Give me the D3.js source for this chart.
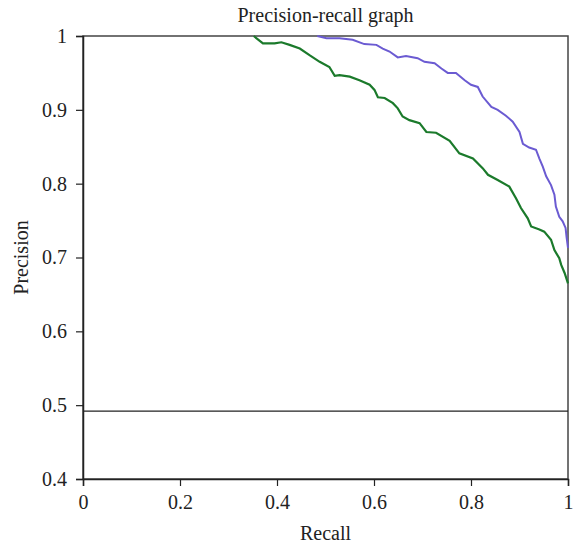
<!DOCTYPE html>
<html>
<head>
<meta charset="utf-8">
<script src="https://cdn.jsdelivr.net/npm/d3@7"></script>
<style>
  body { margin: 0; background: #fff; }
  svg text { font-family: 'Liberation Serif', 'DejaVu Serif', serif; fill: #222; }
</style>
</head>
<body>
<div id="chart"></div>
<script>
// values
let xTicks = [0, 0.2, 0.4, 0.6, 0.8, 1];
let yTicks = [0.4, 0.5, 0.6, 0.7, 0.8, 0.9, 1];
let baselinePrecision = 0.492;

let greenRecall = [0.352, 0.371, 0.395, 0.409, 0.426, 0.447, 0.467, 0.488, 0.508, 0.519, 0.529, 0.550, 0.570, 0.591, 0.601, 0.608, 0.622, 0.639, 0.649, 0.659, 0.673, 0.694, 0.708, 0.728, 0.756, 0.776, 0.804, 0.824, 0.835, 0.855, 0.879, 0.893, 0.903, 0.917, 0.924, 0.941, 0.951, 0.965, 0.972, 0.982, 0.986, 0.993, 1.0];
let greenPrecision = [1.0, 0.990, 0.990, 0.9915, 0.988, 0.983, 0.974, 0.965, 0.958, 0.946, 0.947, 0.945, 0.940, 0.934, 0.927, 0.917, 0.916, 0.909, 0.902, 0.891, 0.886, 0.882, 0.870, 0.869, 0.858, 0.841, 0.834, 0.821, 0.812, 0.805, 0.796, 0.780, 0.767, 0.753, 0.742, 0.738, 0.735, 0.724, 0.710, 0.699, 0.690, 0.679, 0.665];

let purpleRecall = [0.483, 0.502, 0.529, 0.556, 0.580, 0.605, 0.618, 0.632, 0.649, 0.666, 0.690, 0.704, 0.725, 0.739, 0.752, 0.769, 0.787, 0.800, 0.814, 0.824, 0.842, 0.855, 0.872, 0.886, 0.900, 0.907, 0.920, 0.934, 0.941, 0.948, 0.955, 0.965, 0.972, 0.975, 0.982, 0.989, 0.995, 0.997, 1.0];
let purplePrecision = [1.0, 0.997, 0.997, 0.995, 0.989, 0.988, 0.983, 0.979, 0.971, 0.973, 0.970, 0.965, 0.963, 0.956, 0.950, 0.950, 0.940, 0.934, 0.931, 0.918, 0.904, 0.900, 0.892, 0.884, 0.870, 0.854, 0.849, 0.846, 0.834, 0.823, 0.810, 0.798, 0.785, 0.769, 0.755, 0.749, 0.740, 0.728, 0.713];

let margin = {top: 36, right: 7, bottom: 67, left: 83};
let width = 575 - margin.left - margin.right;
let height = 546 - margin.top - margin.bottom;

let svg = d3.select("#chart").append("svg")
    .attr("width", 575)
    .attr("height", 546);

let xScale = d3.scaleLinear().domain([0, 1]).range([0, width]);
let yScale = d3.scaleLinear().domain([0.4, 1]).range([height, 0]);

let g = svg.append("g")
    .attr("transform", `translate(${margin.left},${margin.top})`);

// frame (top + right)
g.append("rect")
    .attr("width", width)
    .attr("height", height)
    .attr("fill", "none")
    .attr("stroke", "#444")
    .attr("stroke-width", 1.5);

let xAxis = d3.axisBottom(xScale).tickValues(xTicks).tickSize(7).tickPadding(9).tickFormat(d => String(d));
let yAxis = d3.axisLeft(yScale).tickValues(yTicks).tickSize(7).tickPadding(9).tickFormat(d => String(d));

let gx = g.append("g")
    .attr("transform", `translate(0,${height})`)
    .call(xAxis);
let gy = g.append("g").call(yAxis);

[gx, gy].forEach(a => {
    a.attr("font-family", "Liberation Serif").attr("font-size", 20);
    a.select(".domain").attr("stroke", "#222").attr("stroke-width", 1.5);
    a.selectAll(".tick line").attr("stroke", "#222").attr("stroke-width", 1.2);
    a.selectAll(".tick text").attr("fill", "#222");
});

// random-classifier baseline
g.append("line")
    .attr("x1", 0).attr("x2", width)
    .attr("y1", yScale(baselinePrecision)).attr("y2", yScale(baselinePrecision))
    .attr("stroke", "#222")
    .attr("stroke-width", 1.2);

let line = d3.line()
    .x(d => xScale(d[0]))
    .y(d => yScale(d[1]));

g.append("path")
    .datum(purpleRecall.map((r, i) => [r, purplePrecision[i]]))
    .attr("d", line)
    .attr("fill", "none")
    .attr("stroke", "#6b5bd2")
    .attr("stroke-width", 2);

g.append("path")
    .datum(greenRecall.map((r, i) => [r, greenPrecision[i]]))
    .attr("d", line)
    .attr("fill", "none")
    .attr("stroke", "#1b7a2b")
    .attr("stroke-width", 2.2);

// titles
svg.append("text")
    .attr("x", margin.left + width / 2)
    .attr("y", 22)
    .attr("text-anchor", "middle")
    .style("font-size", "20px")
    .text("Precision-recall graph");

svg.append("text")
    .attr("x", margin.left + width / 2)
    .attr("y", 540)
    .attr("text-anchor", "middle")
    .style("font-size", "20px")
    .text("Recall");

svg.append("text")
    .attr("transform", `translate(28,${margin.top + height / 2}) rotate(-90)`)
    .attr("text-anchor", "middle")
    .style("font-size", "20px")
    .text("Precision");
</script>
</body>
</html>
